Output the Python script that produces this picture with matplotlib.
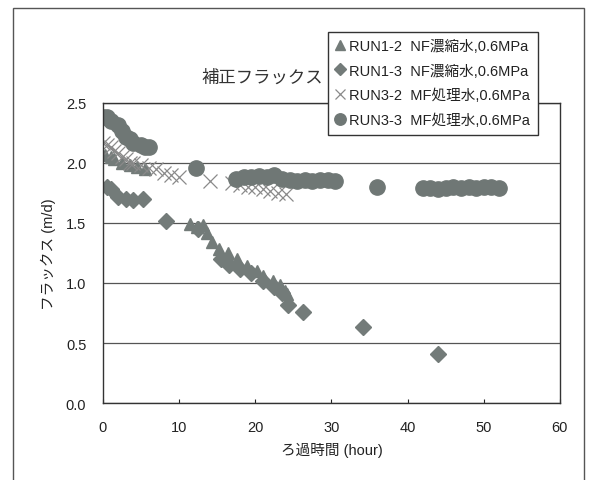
import matplotlib
matplotlib.use("Agg")
import matplotlib.pyplot as plt
from matplotlib.patches import Rectangle

plt.rcParams["font.family"] = ["Liberation Sans", "Noto Sans CJK JP", "DejaVu Sans"]
mixed = ["Liberation Sans", "Noto Sans CJK JP", "DejaVu Sans"]
jp = ["Noto Sans CJK JP", "DejaVu Sans"]

# RUN1-2 NF濃縮水
t12 = [0.3, 1, 1.5, 2.5, 3.5, 4.5, 5.5, 11.4, 12.3, 13.1, 13.6, 14.3, 15.3, 16.4,
       17.6, 18.9, 20.2, 21.0, 22.3, 23.2, 23.9, 24.2]
f12 = [2.07, 2.05, 2.03, 2.0, 1.98, 1.97, 1.95, 1.49, 1.47, 1.48, 1.42, 1.34, 1.28,
       1.25, 1.2, 1.14, 1.1, 1.06, 1.02, 0.98, 0.93, 0.91]

# RUN1-3 NF濃縮水
t13 = [0.5, 1, 2, 3, 4, 5.3, 8.3, 12.5, 15.5, 16.5, 18, 19.5, 21, 22.5, 23.5,
       24.3, 26.3, 34.1, 44.0]
f13 = [1.8, 1.78, 1.72, 1.7, 1.69, 1.7, 1.52, 1.45, 1.2, 1.15, 1.12, 1.08, 1.02,
       0.97, 0.92, 0.82, 0.76, 0.63, 0.41]

# RUN3-2 MF処理水
t32 = [0, 0.5, 1, 1.5, 2, 2.5, 3, 3.5, 4, 5, 6, 7, 8, 9, 10, 14, 17, 18, 19, 20,
       21, 22, 23, 24]
f32 = [2.17, 2.15, 2.13, 2.1, 2.08, 2.05, 2.03, 2.0, 2.0, 1.98, 1.96, 1.95, 1.92,
       1.9, 1.88, 1.85, 1.83, 1.82, 1.8, 1.8, 1.78, 1.77, 1.75, 1.74]

# RUN3-3 MF処理水
t33 = [0, 0.5, 1, 2, 2.5, 3, 3.5, 4, 5, 5.5, 6, 12.2, 17.5, 18.5, 19.5, 20.5,
       21.5, 22.5, 23.5, 24.5, 25.5, 26.5, 27.5, 28.5, 29.5, 30.5, 36.0, 42.0,
       43.0, 44.0, 45.0, 46.0, 47.0, 48.0, 49.0, 50.0, 51.0, 52.0]
f33 = [2.38, 2.38, 2.35, 2.32, 2.27, 2.22, 2.2, 2.17, 2.15, 2.13, 2.13, 1.96, 1.87,
       1.88, 1.88, 1.89, 1.88, 1.9, 1.87, 1.86, 1.85, 1.86, 1.85, 1.86, 1.86,
       1.85, 1.8, 1.79, 1.79, 1.78, 1.79, 1.8, 1.79, 1.8, 1.79, 1.8, 1.8, 1.79]

labels = ["RUN1-2  NF濃縮水,0.6MPa", "RUN1-3  NF濃縮水,0.6MPa",
          "RUN3-2  MF処理水,0.6MPa", "RUN3-3  MF処理水,0.6MPa"]

grey = "#737b79"

fig = plt.figure(figsize=(5.95, 4.81), dpi=100)
ax = fig.add_axes([0.173, 0.160, 0.768, 0.624])

ax.plot(t12, f12, "^", ms=9, color=grey, mec=grey, label=labels[0])
ax.plot(t13, f13, "D", ms=8, color=grey, mec=grey, label=labels[1])
ax.plot(t32, f32, "x", ms=10, mew=0.9, color="#8a8a8a", label=labels[2])
ax.plot(t33, f33, "o", ms=11, color="#6f7775", mec="#6f7775", label=labels[3])

ax.set_xlim(0, 60)
ax.set_ylim(0, 2.5)
ax.set_xticks(range(0, 61, 10))
ax.set_yticks([0, 0.5, 1.0, 1.5, 2.0, 2.5])
ax.set_yticklabels(["0.0", "0.5", "1.0", "1.5", "2.0", "2.5"])
ax.tick_params(axis="x", direction="in", length=3, pad=12, labelsize=10.5,
               colors="#222222")
ax.tick_params(axis="y", length=0, pad=12, labelsize=10.5, colors="#222222")
ax.grid(axis="y", color="#555555", lw=0.9)
ax.set_axisbelow(True)
for s in ax.spines.values():
    s.set_color("#333333")
    s.set_linewidth(1.0)

ax.set_xlabel("ろ過時間 (hour)", family=mixed, fontsize=10.5, labelpad=6,
              color="#222222")
ax.set_ylabel("フラックス (m/d)", family=mixed, fontsize=10.5, labelpad=7,
              color="#222222")

fig.text(0.44, 0.838, "補正フラックス", family=jp, fontsize=12.5, ha="center",
         va="center", color="#333333")

leg = ax.legend(loc="upper left", bbox_to_anchor=(0.493, 1.237), frameon=True,
                fancybox=False, edgecolor="#333333", framealpha=1,
                prop={"family": mixed, "size": 10.5}, handlelength=0.6,
                handletextpad=0.35, labelspacing=0.72, borderpad=0.5,
                borderaxespad=0, markerscale=0.75)
leg.get_frame().set_linewidth(1.0)
for t in leg.get_texts():
    t.set_color("#222222")

# outer chart border
fig.add_artist(Rectangle((0.022, -0.1), 0.96, 1.081, transform=fig.transFigure,
                         fill=False, edgecolor="#555555", lw=1.0))

fig.savefig("out.png", dpi=100)
